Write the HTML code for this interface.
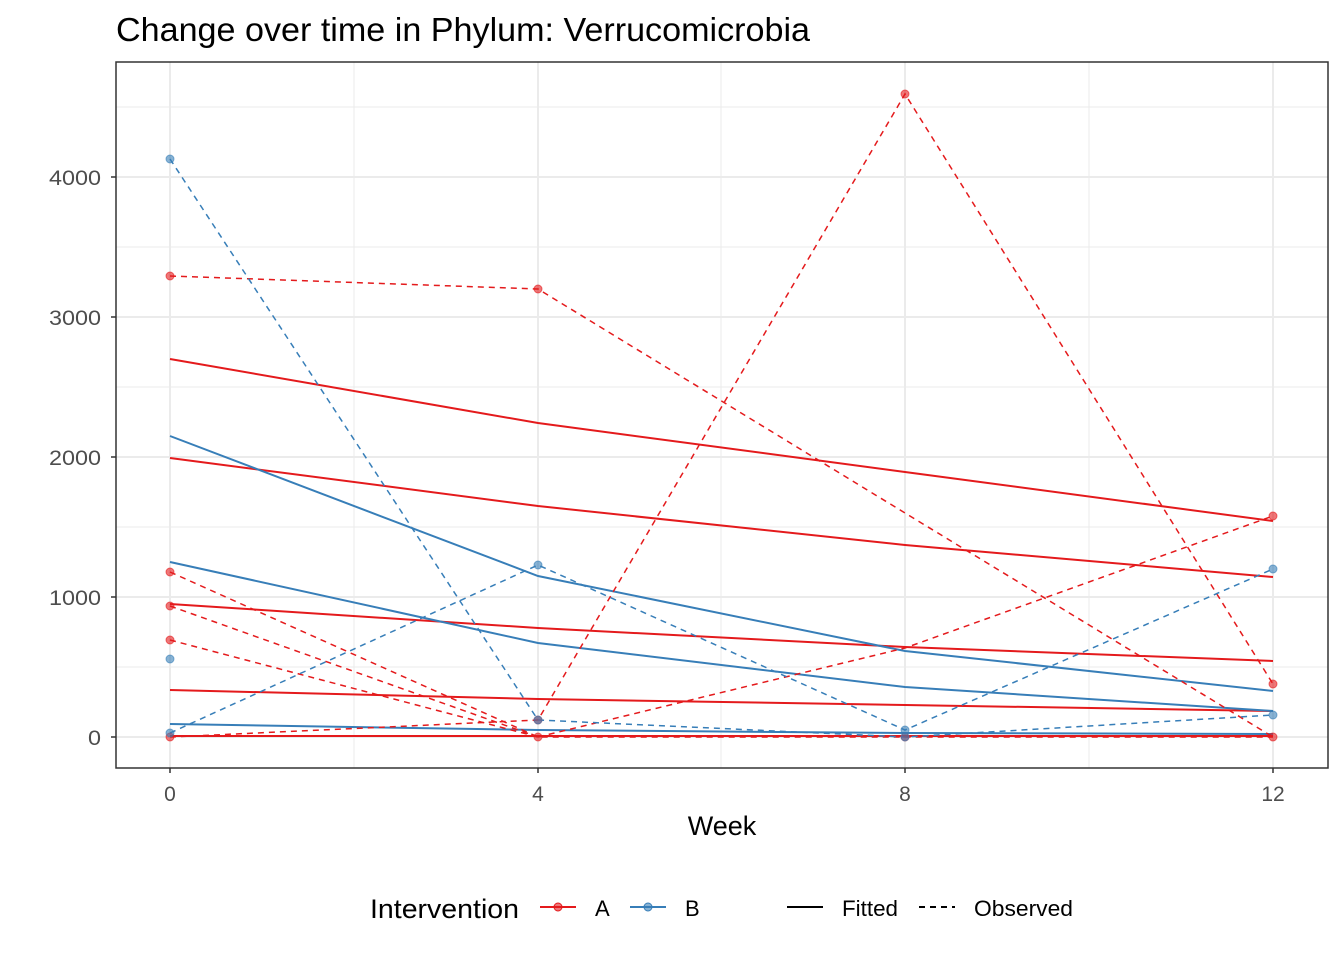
<!DOCTYPE html>
<html><head><style>
body{margin:0;background:#fff;}
svg text{font-family:"Liberation Sans",Arial,sans-serif;}
</style></head><body>
<svg width="1344" height="960" viewBox="0 0 1344 960" xmlns="http://www.w3.org/2000/svg">
<rect width="1344" height="960" fill="#fff"/>
<text x="116" y="41" font-size="33" fill="#000" textLength="694" lengthAdjust="spacingAndGlyphs">Change over time in Phylum: Verrucomicrobia</text>
<g stroke="#ebebeb" stroke-width="1">
<line x1="116" x2="1328" y1="667" y2="667"/><line x1="116" x2="1328" y1="527" y2="527"/>
<line x1="116" x2="1328" y1="387" y2="387"/><line x1="116" x2="1328" y1="247" y2="247"/>
<line x1="116" x2="1328" y1="107" y2="107"/>
<line x1="354" x2="354" y1="62" y2="768"/><line x1="721" x2="721" y1="62" y2="768"/><line x1="1089" x2="1089" y1="62" y2="768"/>
</g>
<g stroke="#ebebeb" stroke-width="2">
<line x1="116" x2="1328" y1="737" y2="737"/><line x1="116" x2="1328" y1="597" y2="597"/>
<line x1="116" x2="1328" y1="457" y2="457"/><line x1="116" x2="1328" y1="317" y2="317"/>
<line x1="116" x2="1328" y1="177" y2="177"/>
<line x1="170" x2="170" y1="62" y2="768"/><line x1="538" x2="538" y1="62" y2="768"/><line x1="905" x2="905" y1="62" y2="768"/><line x1="1273" x2="1273" y1="62" y2="768"/>
</g>
<g fill="none" stroke-width="2">
<polyline stroke="#e41a1c" points="170,359 538,423 905,472 1273,521"/>
<polyline stroke="#e41a1c" points="170,458 538,506 905,545 1273,577"/>
<polyline stroke="#e41a1c" points="170,604 538,628 905,647 1273,661"/>
<polyline stroke="#e41a1c" points="170,690 538,699 905,705 1273,711"/>
<polyline stroke="#377eb8" points="170,436 538,576 905,651 1273,691"/>
<polyline stroke="#377eb8" points="170,562 538,643 905,687 1273,711"/>
<polyline stroke="#377eb8" points="170,724 538,730 905,733 1273,734"/>
<polyline stroke="#e41a1c" points="170,736 538,736 905,736 1273,736"/>
</g>
<g fill="none" stroke-width="1.5" stroke-dasharray="6,5">
<polyline stroke="#e41a1c" points="170,276 538,289 905,513 1273,737"/>
<polyline stroke="#e41a1c" points="170,572 538,737 905,737 1273,737"/>
<polyline stroke="#e41a1c" points="170,606 538,737"/>
<polyline stroke="#e41a1c" points="170,640 538,737"/>
<polyline stroke="#e41a1c" points="170,737 538,720 905,94 1273,684"/>
<polyline stroke="#e41a1c" points="538,737 905,648 1273,516"/>
<polyline stroke="#377eb8" points="170,159 538,720 905,737 1273,715"/>
<polyline stroke="#377eb8" points="170,733 538,565 905,730 1273,569"/>
</g>
<g fill="#e41a1c" fill-opacity="0.6" stroke="#e41a1c" stroke-opacity="0.6">
<circle cx="170" cy="276" r="4"/><circle cx="538" cy="289" r="4"/><circle cx="170" cy="572" r="4"/>
<circle cx="170" cy="606" r="4"/><circle cx="170" cy="640" r="4"/><circle cx="170" cy="737" r="4"/>
<circle cx="538" cy="720" r="4"/><circle cx="538" cy="737" r="4"/><circle cx="905" cy="94" r="4"/>
<circle cx="905" cy="737" r="4"/><circle cx="1273" cy="684" r="4"/><circle cx="1273" cy="516" r="4"/><circle cx="1273" cy="737" r="4"/>
</g>
<g fill="#377eb8" fill-opacity="0.6" stroke="#377eb8" stroke-opacity="0.6">
<circle cx="170" cy="159" r="4"/><circle cx="170" cy="659" r="4"/><circle cx="170" cy="733" r="4"/>
<circle cx="538" cy="565" r="4"/><circle cx="538" cy="720" r="4"/><circle cx="905" cy="730" r="4"/>
<circle cx="905" cy="737" r="4"/><circle cx="1273" cy="569" r="4"/><circle cx="1273" cy="715" r="4"/>
</g>
<rect x="116" y="62" width="1212" height="706" fill="none" stroke="#333" stroke-width="1.5"/>
<g stroke="#333" stroke-width="1.5">
<line x1="111" x2="116" y1="737" y2="737"/><line x1="111" x2="116" y1="597" y2="597"/>
<line x1="111" x2="116" y1="457" y2="457"/><line x1="111" x2="116" y1="317" y2="317"/><line x1="111" x2="116" y1="177" y2="177"/>
<line x1="170" x2="170" y1="768" y2="773"/><line x1="538" x2="538" y1="768" y2="773"/><line x1="905" x2="905" y1="768" y2="773"/><line x1="1273" x2="1273" y1="768" y2="773"/>
</g>
<g font-size="21" fill="#4d4d4d">
<text x="88" y="745" textLength="13" lengthAdjust="spacingAndGlyphs">0</text>
<text x="49" y="605" textLength="52" lengthAdjust="spacingAndGlyphs">1000</text>
<text x="49" y="465" textLength="52" lengthAdjust="spacingAndGlyphs">2000</text>
<text x="49" y="325" textLength="52" lengthAdjust="spacingAndGlyphs">3000</text>
<text x="49" y="185" textLength="52" lengthAdjust="spacingAndGlyphs">4000</text>
</g>
<g font-size="21" fill="#4d4d4d" text-anchor="middle">
<text x="170" y="801">0</text><text x="538" y="801">4</text><text x="905" y="801">8</text><text x="1273" y="801">12</text>
</g>
<text x="722" y="835" font-size="27" text-anchor="middle">Week</text>
<text x="370" y="918" font-size="27" textLength="149" lengthAdjust="spacingAndGlyphs">Intervention</text>
<line x1="540" x2="576" y1="907" y2="907" stroke="#e41a1c" stroke-width="2"/><circle cx="558" cy="907" r="4" fill="#e41a1c" fill-opacity="0.6" stroke="#e41a1c"/>
<text x="595" y="916" font-size="22">A</text>
<line x1="630" x2="666" y1="907" y2="907" stroke="#377eb8" stroke-width="2"/><circle cx="648" cy="907" r="4" fill="#377eb8" fill-opacity="0.6" stroke="#377eb8"/>
<text x="685" y="916" font-size="22">B</text>
<line x1="787" x2="823" y1="907" y2="907" stroke="#000" stroke-width="2"/>
<text x="842" y="916" font-size="22" textLength="56" lengthAdjust="spacingAndGlyphs">Fitted</text>
<line x1="919" x2="955" y1="907" y2="907" stroke="#000" stroke-width="2" stroke-dasharray="6,5"/>
<text x="974" y="916" font-size="22" textLength="99" lengthAdjust="spacingAndGlyphs">Observed</text>
</svg>
</body></html>
